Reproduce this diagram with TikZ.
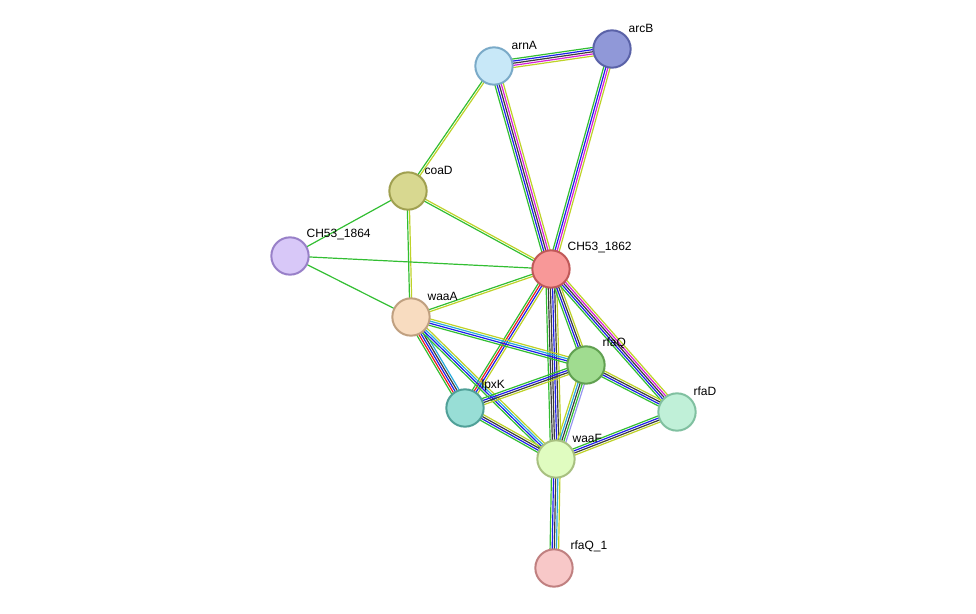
\documentclass[tikz,border=0pt]{standalone}
\usepackage{fontspec}
\setmainfont{Liberation Sans}
\usetikzlibrary{calc}
\definecolor{eg}{RGB}{50,190,50}
\definecolor{er}{RGB}{235,30,30}
\definecolor{eb}{RGB}{30,30,235}
\definecolor{ec}{RGB}{40,170,220}
\definecolor{em}{RGB}{215,30,215}
\definecolor{ek}{RGB}{60,60,60}
\definecolor{ey}{RGB}{190,210,40}
\definecolor{el}{RGB}{150,150,240}
\newcommand{\ppiedge}[3]{%
  \foreach \c [count=\i] in {#3} {\xdef\ppin{\i}}%
  \foreach \c [count=\i] in {#3} {
    \pgfmathsetmacro{\d}{(\i-(\ppin+1)/2)*1.6}
    \draw[\c, line width=0.9pt] ($(#1)!\d pt!90:(#2)$) -- ($(#2)!\d pt!-90:(#1)$);
  }%
}
\begin{document}
\begin{tikzpicture}[x=0.75pt, y=-0.75pt,
    prot/.style={circle, minimum size=28pt, inner sep=0pt, line width=1.5pt},
    lbl/.style={font=\fontsize{9}{11}\selectfont, inner sep=1pt}]
  \useasboundingbox (0,0) rectangle (976,614);

  \coordinate (arnA) at (494,66);
  \coordinate (arcB) at (612,49);
  \coordinate (coaD) at (408,191);
  \coordinate (CH53_1864) at (290,256);
  \coordinate (CH53_1862) at (551,269);
  \coordinate (waaA) at (411,317);
  \coordinate (rfaQ) at (586,365);
  \coordinate (lpxK) at (465,408);
  \coordinate (rfaD) at (677,412);
  \coordinate (waaF) at (556,459);
  \coordinate (rfaQ_1) at (554,568);

  % edges
  \ppiedge{arnA}{arcB}{ey,em,ek,eb,eg}
  \ppiedge{arnA}{coaD}{eg,ey}
  \ppiedge{arnA}{CH53_1862}{eg,eb,ek,em,ey}
  \ppiedge{arcB}{CH53_1862}{eg,eb,em,ey}
  \ppiedge{coaD}{CH53_1864}{eg}
  \ppiedge{coaD}{CH53_1862}{eg,ey}
  \ppiedge{coaD}{waaA}{eg,ey}
  \ppiedge{CH53_1864}{CH53_1862}{eg}
  \ppiedge{CH53_1864}{waaA}{eg}
  \ppiedge{CH53_1862}{waaA}{eg,ey}
  \ppiedge{CH53_1862}{lpxK}{eg,er,eb,ey}
  \ppiedge{CH53_1862}{waaF}{eg,ek,ek,eb,ek,ey}
  \ppiedge{CH53_1862}{rfaQ}{eg,eb,ek,ey}
  \ppiedge{CH53_1862}{rfaD}{eg,eb,ek,em,ey}
  \ppiedge{waaA}{rfaQ}{eg,eb,ec,ey}
  \ppiedge{waaA}{lpxK}{eg,er,eb,ek,ec}
  \ppiedge{waaA}{waaF}{eg,eb,ec,ey}
  \ppiedge{rfaQ}{lpxK}{eg,eb,ek,ey}
  \ppiedge{rfaQ}{waaF}{ey,ec,ek,eg,el}
  \ppiedge{rfaQ}{rfaD}{eg,eb,ek,ey}
  \ppiedge{lpxK}{waaF}{eg,eb,ek,ey}
  \ppiedge{rfaD}{waaF}{eg,eb,ek,ey}
  \ppiedge{waaF}{rfaQ_1}{eg,eb,ek,ec,ey}

  % proteins
  \node[prot, fill={rgb,255:red,200;green,232;blue,248}, draw={rgb,255:red,122;green,170;blue,200}] (n1) at (arnA) {};
  \node[prot, fill={rgb,255:red,144;green,152;blue,216}, draw={rgb,255:red,90;green,98;blue,168}] (n2) at (arcB) {};
  \node[prot, fill={rgb,255:red,216;green,216;blue,144}, draw={rgb,255:red,160;green,160;blue,80}] (n3) at (coaD) {};
  \node[prot, fill={rgb,255:red,216;green,200;blue,248}, draw={rgb,255:red,152;green,128;blue,200}] (n4) at (CH53_1864) {};
  \node[prot, fill={rgb,255:red,248;green,152;blue,152}, draw={rgb,255:red,192;green,88;blue,88}] (n5) at (CH53_1862) {};
  \node[prot, fill={rgb,255:red,248;green,220;blue,192}, draw={rgb,255:red,192;green,160;blue,128}] (n6) at (waaA) {};
  \node[prot, fill={rgb,255:red,160;green,220;blue,144}, draw={rgb,255:red,96;green,160;blue,80}] (n7) at (rfaQ) {};
  \node[prot, fill={rgb,255:red,152;green,222;blue,214}, draw={rgb,255:red,80;green,160;blue,152}] (n8) at (lpxK) {};
  \node[prot, fill={rgb,255:red,192;green,240;blue,216}, draw={rgb,255:red,128;green,192;blue,160}] (n9) at (rfaD) {};
  \node[prot, fill={rgb,255:red,224;green,252;blue,192}, draw={rgb,255:red,168;green,192;blue,128}] (n10) at (waaF) {};
  \node[prot, fill={rgb,255:red,248;green,200;blue,200}, draw={rgb,255:red,192;green,128;blue,128}] (n11) at (rfaQ_1) {};

  % labels
  \node[lbl, anchor=south west] at (510,51) {arnA};
  \node[lbl, anchor=south west] at (627,34) {arcB};
  \node[lbl, anchor=south west] at (423,176) {coaD};
  \node[lbl, anchor=south west] at (305,241) {CH53\_1864};
  \node[lbl, anchor=south west] at (566,254) {CH53\_1862};
  \node[lbl, anchor=south west] at (426,302) {waaA};
  \node[lbl, anchor=south west] at (601,350) {rfaQ};
  \node[lbl, anchor=south west] at (480,393) {lpxK};
  \node[lbl, anchor=south west] at (692,397) {rfaD};
  \node[lbl, anchor=south west] at (571,444) {waaF};
  \node[lbl, anchor=south west] at (569,553) {rfaQ\_1};
\end{tikzpicture}
\end{document}
